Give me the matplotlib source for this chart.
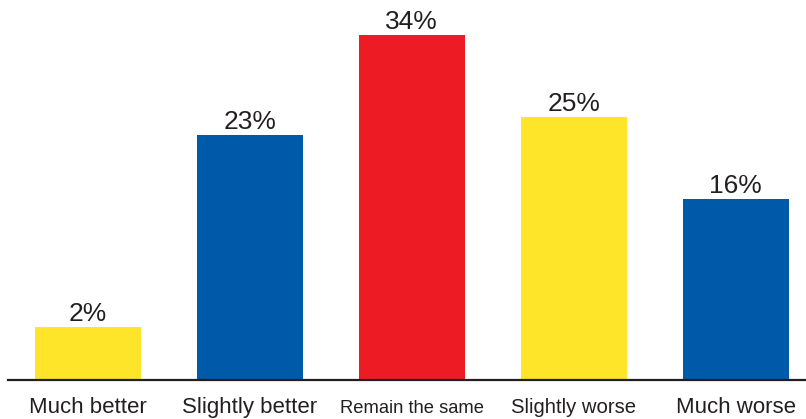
import numpy as np
import matplotlib
matplotlib.use("Agg")
import matplotlib.pyplot as plt

plt.rcParams['font.family'] = ['Liberation Sans', 'DejaVu Sans']

# data
categories = ["Much better", "Slightly better", "Remain the same", "Slightly worse", "Much worse"]
values = [2, 23, 34, 25, 16]
bar_colors = ["#FFE52A", "#005AAA", "#ED1C24", "#FFE52A", "#005AAA"]
label_sizes = [16, 16, 13.2, 14.6, 16]

text_color = "#231F20"
base = -3.8  # axis line sits a bit below zero in the original

fig = plt.figure(figsize=(8.06, 4.19), dpi=100)
ax = fig.add_axes([0, 0, 1, 1])

x = np.arange(len(categories))
vals = np.array(values, dtype=float)
ax.bar(x, vals - base, bottom=base, width=0.654, color=bar_colors, zorder=2)

# value labels above bars
for xi, v in zip(x, vals):
    ax.text(xi, v + 0.66, f"{int(v)}%", ha="center", va="baseline",
            fontsize=19, color=text_color)

# category labels below axis line
for xi, cat, fs in zip(x, categories, label_sizes):
    ax.text(xi, -7.46, cat, ha="center", va="baseline", fontsize=fs, color=text_color)

ax.axhline(base, xmin=8 / 806, xmax=1, color=text_color, linewidth=1.6, zorder=3)

ax.set_xlim(-0.542, 4.433)
ax.set_ylim(-8.08, 37.8)
ax.axis("off")

fig.savefig("out.png", dpi=100, facecolor="white")
